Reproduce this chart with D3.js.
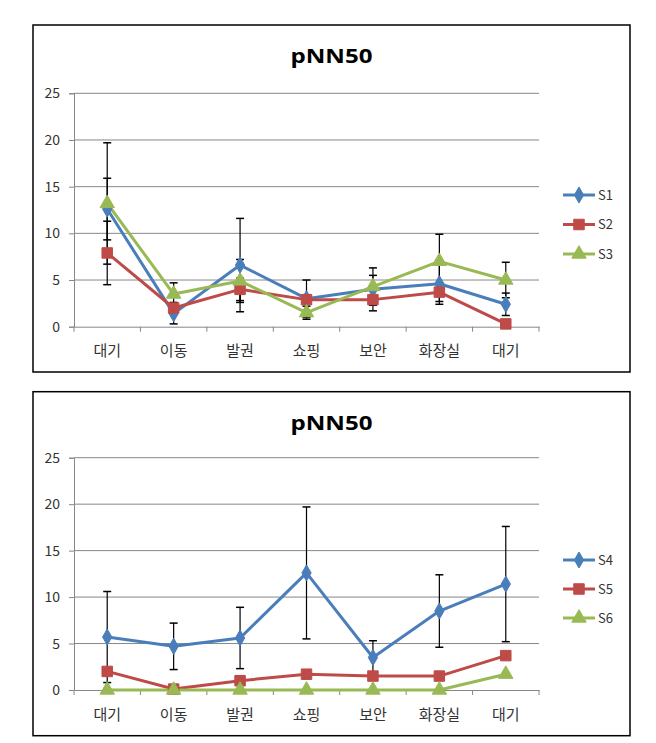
<!DOCTYPE html>
<html><head><meta charset="utf-8">
<script src="https://cdn.jsdelivr.net/npm/d3@7"></script>
<style>body{margin:0;background:#fff;} svg{display:block;}</style>
</head><body>
<svg id="c" width="656" height="743"></svg>
<script>
const categories = ["대기","이동","발권","쇼핑","보안","화장실","대기"];
const yTicks = [0,5,10,15,20,25];
const chartTitle = "pNN50";

const topNames = ["S1","S2","S3"];
const S1 = [12.6, 1.4, 6.6, 3.0, 4.0, 4.6, 2.4];
const S1err = [3.3, 1.1, 5.0, 2.0, 1.5, 2.2, 1.2];
const S2 = [7.9, 2.0, 4.0, 2.9, 2.9, 3.7, 0.3];
const S2err = [3.4, 0.6, 1.2, 0.3, 1.2, 1.0, 0.3];
const S3 = [13.2, 3.5, 4.9, 1.5, 4.3, 7.0, 5.0];
const S3err = [6.5, 1.2, 2.3, 0.7, 2.0, 2.9, 1.9];

const botNames = ["S4","S5","S6"];
const S4 = [5.7, 4.7, 5.6, 12.6, 3.5, 8.5, 11.4];
const S4err = [4.9, 2.5, 3.3, 7.1, 1.8, 3.9, 6.2];
const S5 = [2.0, 0.1, 1.0, 1.7, 1.5, 1.5, 3.7];
const S5err = [0, 0, 0, 0, 0, 0, 0];
const S6 = [0, 0, 0, 0, 0, 0, 1.7];
const S6err = [0, 0, 0, 0, 0, 0, 0];

const colors = ["#4A7EBB", "#BE4B48", "#98B954"];
const shapes = [d3.symbolDiamond, d3.symbolSquare, d3.symbolTriangle];
const shapeSizes = [75, 110, 90];

const svg = d3.select("#c");
const FONT = "'Noto Sans CJK KR', 'Noto Sans', sans-serif";

function drawChart(box, plot, names, vals, errs, legendYs) {
  const g = svg.append("g");
  g.append("rect").attr("x", box.x).attr("y", box.y).attr("width", box.w).attr("height", box.h)
    .attr("fill", "#fff").attr("stroke", "#000").attr("stroke-width", 1.5);
  g.append("text").attr("x", (box.x + box.x + box.w) / 2).attr("y", box.y + 38)
    .attr("text-anchor", "middle").attr("font-family", "'Open Sans', 'DejaVu Sans', sans-serif")
    .attr("font-weight", "bold").attr("font-size", 20).attr("fill", "#000")
    .attr("textLength", 82).attr("lengthAdjust", "spacingAndGlyphs")
    .text(chartTitle);

  const idx = d3.range(categories.length);
  const x = d3.scaleBand().domain(idx).range([plot.x0, plot.x1]);
  const y = d3.scaleLinear().domain([0, 25]).range([plot.y0, plot.y1]);
  const cx = i => x(i) + x.bandwidth() / 2;

  g.append("g").selectAll("line").data(yTicks.filter(t => t > 0)).join("line")
    .attr("x1", plot.x0).attr("x2", plot.x1).attr("y1", d => y(d)).attr("y2", d => y(d))
    .attr("stroke", "#878787").attr("stroke-width", 1);

  const ya = g.append("g").attr("transform", `translate(${plot.x0},0)`)
    .call(d3.axisLeft(y).tickValues(yTicks).tickSize(5).tickPadding(9));
  ya.select(".domain").attr("stroke", "#878787");
  ya.selectAll(".tick line").attr("stroke", "#878787");
  ya.selectAll("text").attr("font-family", FONT).attr("font-size", 14).attr("fill", "#333");

  const xa = g.append("g").attr("transform", `translate(0,${plot.y0})`)
    .call(d3.axisBottom(x).tickFormat(i => categories[i]).tickSize(0).tickPadding(19));
  xa.select(".domain").attr("stroke", "#878787");
  xa.selectAll("text").attr("font-family", FONT).attr("font-size", 15).attr("fill", "#333");
  g.append("g").selectAll("line").data(d3.range(categories.length + 1)).join("line")
    .attr("x1", i => plot.x0 + i * x.step()).attr("x2", i => plot.x0 + i * x.step())
    .attr("y1", plot.y0).attr("y2", plot.y0 + 5)
    .attr("stroke", "#878787");

  const line = d3.line().x((d, i) => cx(i)).y(d => y(d));
  vals.forEach((v, s) => {
    g.append("path").attr("d", line(v)).attr("fill", "none")
      .attr("stroke", colors[s]).attr("stroke-width", 3).attr("stroke-linejoin", "round");
  });
  vals.forEach((v, s) => {
    const eg = g.append("g");
    v.forEach((val, i) => {
      const e = errs[s][i];
      if (!e) return;
      const lo = Math.max(0, val - e), hi = val + e;
      eg.append("line").attr("x1", cx(i)).attr("x2", cx(i)).attr("y1", y(hi)).attr("y2", y(lo))
        .attr("stroke", "#000").attr("stroke-width", 1.2);
      [hi, lo].forEach(t => eg.append("line").attr("x1", cx(i) - 4).attr("x2", cx(i) + 4)
        .attr("y1", y(t)).attr("y2", y(t)).attr("stroke", "#000").attr("stroke-width", 1.5));
    });
  });
  vals.forEach((v, s) => {
    g.append("g").selectAll("path").data(v).join("path")
      .attr("transform", (d, i) => `translate(${cx(i)},${y(d)})`)
      .attr("d", d3.symbol().type(shapes[s]).size(shapeSizes[s]))
      .attr("fill", colors[s]).attr("stroke", colors[s]).attr("stroke-width", 1);
  });

  names.forEach((n, s) => {
    const ly = legendYs[s];
    g.append("line").attr("x1", 563).attr("x2", 595).attr("y1", ly).attr("y2", ly)
      .attr("stroke", colors[s]).attr("stroke-width", 3);
    g.append("path").attr("transform", `translate(579,${ly})`)
      .attr("d", d3.symbol().type(shapes[s]).size(shapeSizes[s]))
      .attr("fill", colors[s]).attr("stroke", colors[s]);
    g.append("text").attr("x", 598).attr("y", ly).attr("dy", "0.35em")
      .attr("font-family", FONT).attr("font-size", 13).attr("fill", "#333").text(n);
  });
}

drawChart({x: 33, y: 25, w: 597, h: 347},
  {x0: 74, x1: 539, y0: 326.7, y1: 93.3},
  topNames, [S1, S2, S3], [S1err, S2err, S3err], [195, 224.5, 254]);

drawChart({x: 33, y: 391.7, w: 597, h: 344},
  {x0: 74, x1: 539, y0: 690, y1: 457.7},
  botNames, [S4, S5, S6], [S4err, S5err, S6err], [560, 589, 618]);
</script>
</body></html>
